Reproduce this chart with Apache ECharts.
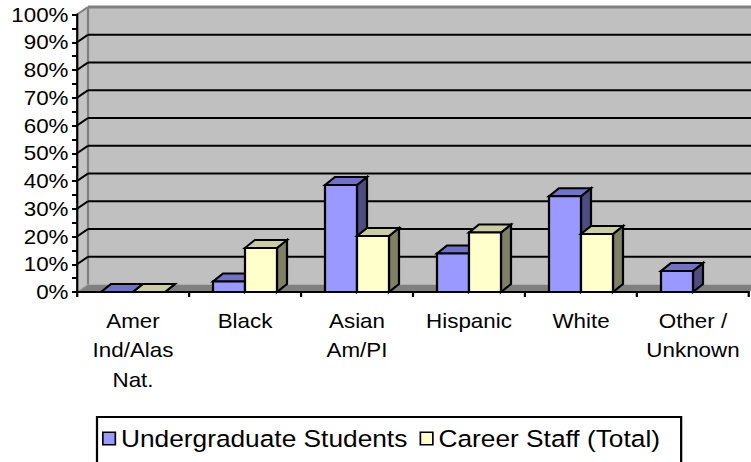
<!DOCTYPE html>
<html>
<head>
<meta charset="utf-8">
<script src="https://cdn.jsdelivr.net/npm/echarts@6/dist/echarts.min.js"></script>
<style>
  html, body { margin: 0; padding: 0; background: #fff; overflow: hidden; }
  /* The chart is laid out on a narrower canvas and widened, so text comes out slightly broad */
  #chart { width: 671px; height: 462px; transform: scaleX(1.1192); transform-origin: 0 0; }
</style>
</head>
<body>
<div id="chart"></div>
<script>
// ---- Data ----
const categories = ['Amer\nInd/Alas\nNat.', 'Black', 'Asian\nAm/PI', 'Hispanic', 'White', 'Other /\nUnknown'];
const undergraduateStudents = [0, 3.8, 38.6, 13.9, 34.5, 7.6];
const careerStaffTotal = [0, 15.9, 20.2, 21.4, 20.9, null];
const seriesNames = ['Undergraduate Students', 'Career Staff (Total)'];
const yTickValues = [0, 10, 20, 30, 40, 50, 60, 70, 80, 90, 100];

// ---- Layout helpers (screen pixels -> canvas pixels) ----
const SX = 751 / 671;
const u = px => px / SX;

const FONT = 'Liberation Sans, Arial, Helvetica, sans-serif';
const WALL_DX = u(11), WALL_DY = -7.5;   // depth of the back wall
const BAR_DX = u(10), BAR_DY = -8;       // depth of each column
const BAR_FRACTION = 32 / 112;           // one column's width relative to a category band

const faces = [
  { front: '#9999ff', top: '#7171c8', side: '#4d4d80' },
  { front: '#ffffcc', top: '#cccca3', side: '#808066' }
];

// Walls, floor and back gridlines of the 3D frame
function renderFrame(params, api) {
  const cs = params.coordSys;
  const x0 = cs.x, x1 = cs.x + cs.width;
  const yBase = api.coord([0, 0])[1];
  const yTop = api.coord([0, 100])[1];
  const dx = WALL_DX, dy = WALL_DY;
  const children = [];

  children.push({ type: 'rect',
    shape: { x: x0 + dx, y: yTop + dy, width: x1 - x0 + 20, height: yBase - yTop },
    style: { fill: '#c0c0c0' } });
  children.push({ type: 'polygon',
    shape: { points: [[x0, yBase], [x0, yTop], [x0 + dx, yTop + dy], [x0 + dx, yBase + dy]] },
    style: { fill: '#c4c4c4' } });
  children.push({ type: 'line',
    shape: { x1: x0 + dx, y1: yTop + dy, x2: x0 + dx, y2: yBase + dy },
    style: { stroke: '#808080', lineWidth: 2 } });

  yTickValues.forEach(v => {
    if (v === 0) return;
    const y = api.coord([0, v])[1];
    const edge = v === 100;
    children.push({ type: 'line',
      shape: { x1: x0 + dx, y1: y + dy, x2: x1 + dx + 20, y2: y + dy },
      style: { stroke: edge ? '#808080' : '#000', lineWidth: edge ? 3 : 2 } });
    children.push({ type: 'line',
      shape: { x1: x0, y1: y, x2: x0 + dx, y2: y + dy },
      style: { stroke: edge ? '#808080' : '#000', lineWidth: 2 } });
  });

  children.push({ type: 'polygon',
    shape: { points: [[x0, yBase], [x1, yBase], [x1 + dx, yBase + dy], [x0 + dx, yBase + dy]] },
    style: { fill: '#808080' } });
  children.push({ type: 'line',
    shape: { x1: x0, y1: yBase, x2: x0 + dx, y2: yBase + dy },
    style: { stroke: '#a0a0a0', lineWidth: 1 } });

  return { type: 'group', children };
}

// A 3D column: front face, top face and right side face
function makeColumnRenderer(slot) {
  const f = faces[slot];
  return function (params, api) {
    const i = api.value(0);
    const v = api.value(1);
    const band = api.size([1, 0])[0];
    const bw = band * BAR_FRACTION;
    const base = api.coord([i, 0]);
    const x = base[0] + (slot === 0 ? -bw : 0);
    const yb = base[1];
    const yt = api.coord([i, v])[1];
    const stroke = { stroke: '#000', lineWidth: 2, lineJoin: 'miter' };
    return {
      type: 'group',
      children: [
        { type: 'polygon',
          shape: { points: [[x + bw, yt], [x + bw + BAR_DX, yt + BAR_DY], [x + bw + BAR_DX, yb + BAR_DY], [x + bw, yb]] },
          style: Object.assign({ fill: f.side }, stroke) },
        { type: 'polygon',
          shape: { points: [[x, yt], [x + bw, yt], [x + bw + BAR_DX, yt + BAR_DY], [x + BAR_DX, yt + BAR_DY]] },
          style: Object.assign({ fill: f.top }, stroke) },
        { type: 'rect',
          shape: { x: x, y: yt, width: bw, height: yb - yt },
          style: Object.assign({ fill: f.front }, stroke) }
      ]
    };
  };
}

const toPoints = values => values
  .map((v, i) => [i, v])
  .filter(p => p[1] !== null && p[1] !== undefined);

const chart = echarts.init(document.getElementById('chart'), null, { renderer: 'svg' });

chart.setOption({
  animation: false,
  backgroundColor: '#fff',
  textStyle: { fontFamily: FONT, color: '#000' },
  grid: { left: u(77), top: 14.5, width: u(672), height: 277.5, containLabel: false },
  xAxis: {
    type: 'category',
    data: categories,
    boundaryGap: true,
    z: 3,
    axisLine: { lineStyle: { color: '#000', width: 2 } },
    axisTick: { show: true, length: 5, interval: 0, lineStyle: { color: '#000', width: 2 } },
    axisLabel: { interval: 0, fontSize: 20, lineHeight: 29.5, margin: 14, color: '#000', fontFamily: FONT },
    splitLine: { show: false }
  },
  yAxis: {
    type: 'value',
    min: 0, max: 100, interval: 10,
    z: 3,
    axisLine: { show: true, lineStyle: { color: '#000', width: 2 } },
    axisTick: { show: true, length: u(5), lineStyle: { color: '#000', width: 2 } },
    minorTick: { show: true, splitNumber: 2, length: u(5), lineStyle: { color: '#000', width: 2 } },
    axisLabel: { formatter: '{value}%', fontSize: 20, margin: u(8.5), color: '#000', fontFamily: FONT, padding: [6, 0, 0, 0] },
    splitLine: { show: false }
  },
  legend: {
    data: [
      { name: seriesNames[0], icon: 'rect', itemStyle: { color: faces[0].front, borderColor: '#000', borderWidth: 1.5 } },
      { name: seriesNames[1], icon: 'rect', itemStyle: { color: faces[1].front, borderColor: '#000', borderWidth: 1.5 } }
    ],
    left: u(97), top: 417,
    orient: 'horizontal',
    itemWidth: u(12.5), itemHeight: 12.5, itemGap: u(12),
    padding: [9.5, u(21), 30, u(5)],
    borderColor: '#000', borderWidth: 2,
    backgroundColor: '#fff',
    textStyle: { fontSize: 23.5, color: '#000', fontFamily: FONT }
  },
  series: [
    { type: 'custom', name: 'frame', silent: true, z: 1,
      renderItem: renderFrame, data: [[0, 0]], encode: { x: 0, y: 1 } },
    { type: 'custom', name: seriesNames[0], z: 4,
      itemStyle: { color: faces[0].front },
      renderItem: makeColumnRenderer(0), data: toPoints(undergraduateStudents), encode: { x: 0, y: 1 } },
    { type: 'custom', name: seriesNames[1], z: 4,
      itemStyle: { color: faces[1].front },
      renderItem: makeColumnRenderer(1), data: toPoints(careerStaffTotal), encode: { x: 0, y: 1 } }
  ]
});
</script>
</body>
</html>
